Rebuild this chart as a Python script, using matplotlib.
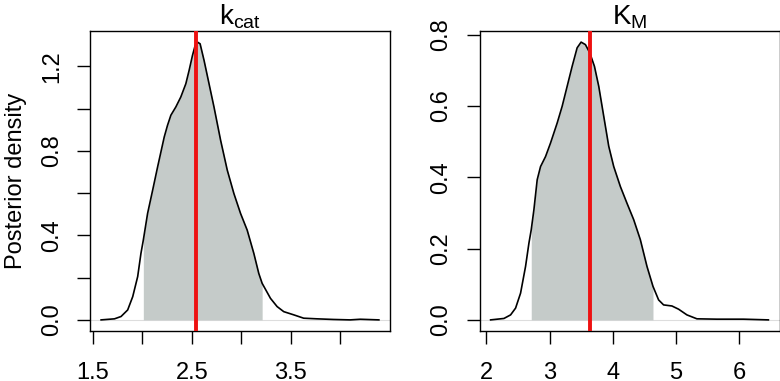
import numpy as np
import matplotlib as mpl
mpl.use('Agg')
import matplotlib.pyplot as plt

plt.rcParams['font.family'] = ['Liberation Sans', 'DejaVu Sans']
plt.rcParams['mathtext.fontset'] = 'custom'
plt.rcParams['mathtext.rm'] = 'Liberation Sans'
plt.rcParams['mathtext.it'] = 'Liberation Sans'

# posterior density of kcat
kcat_x = [1.585, 1.72, 1.786, 1.853, 1.904, 1.954, 1.987, 2.011, 2.054, 2.105,
          2.155, 2.222, 2.255, 2.289, 2.339, 2.389, 2.44, 2.473, 2.507, 2.534,
          2.557, 2.584, 2.624, 2.674, 2.724, 2.791, 2.858, 2.925, 2.992, 3.059,
          3.126, 3.176, 3.21, 3.294, 3.361, 3.428, 3.528, 3.629, 3.763, 3.93,
          4.098, 4.2, 4.388]
kcat_y = [0.0, 0.005, 0.016, 0.047, 0.11, 0.205, 0.315, 0.378, 0.504, 0.614,
          0.724, 0.866, 0.921, 0.969, 1.008, 1.055, 1.118, 1.181, 1.252, 1.299,
          1.315, 1.307, 1.228, 1.118, 1.008, 0.85, 0.709, 0.598, 0.504, 0.425,
          0.315, 0.22, 0.173, 0.102, 0.063, 0.039, 0.024, 0.008, 0.005, 0.002,
          0.0, 0.003, 0.0]
kcat_ci = [2.011, 3.21]
kcat_true = 2.54

# posterior density of KM
km_x = [2.068, 2.279, 2.384, 2.463, 2.542, 2.621, 2.674, 2.711, 2.753, 2.805,
        2.858, 2.937, 3.016, 3.121, 3.2, 3.279, 3.358, 3.437, 3.5, 3.568,
        3.637, 3.711, 3.779, 3.858, 3.937, 4.016, 4.121, 4.226, 4.332, 4.437,
        4.542, 4.637, 4.726, 4.805, 4.937, 5.042, 5.174, 5.332, 5.647, 6.068,
        6.463]
km_y = [0.0, 0.004, 0.014, 0.033, 0.075, 0.15, 0.215, 0.253, 0.309, 0.393,
        0.43, 0.458, 0.496, 0.552, 0.599, 0.655, 0.711, 0.763, 0.779, 0.772,
        0.749, 0.711, 0.655, 0.571, 0.487, 0.43, 0.374, 0.327, 0.281, 0.225,
        0.15, 0.094, 0.056, 0.042, 0.039, 0.03, 0.014, 0.003, 0.002, 0.002,
        0.0]
km_ci = [2.711, 4.637]
km_true = 3.637

kcat_xticks = [1.5, 2.0, 2.5, 3.0, 3.5, 4.0]
kcat_xlabels = ['1.5', '', '2.5', '', '3.5', '']
kcat_yticks = [0.0, 0.2, 0.4, 0.6, 0.8, 1.0, 1.2]
kcat_ylabels = ['0.0', '', '0.4', '', '0.8', '', '1.2']
km_xticks = [2, 3, 4, 5, 6]
km_xlabels = ['2', '3', '4', '5', '6']
km_yticks = [0.0, 0.2, 0.4, 0.6, 0.8]
km_ylabels = ['0.0', '0.2', '0.4', '0.6', '0.8']

fig = plt.figure(figsize=(7.8, 3.81), dpi=100)
ax1 = fig.add_axes([90 / 780, 50 / 381, 300 / 780, 300 / 381])
ax2 = fig.add_axes([479.5 / 780, 50 / 381, 300 / 780, 300 / 381])


def panel(ax, xs, ys, ci, true, title, xt, xl, yt, yl):
    xs = np.array(xs)
    ys = np.array(ys)
    inside = (xs >= ci[0]) & (xs <= ci[1])
    ax.axhline(0, color='#dddddd', lw=0.8, zorder=1)
    ax.fill_between(xs, 0, ys, where=inside, color='#c5cbc9', lw=0, zorder=2)
    ax.plot(xs, ys, color='black', lw=1.2, zorder=3)
    ax.axvline(true, color='#ee1111', lw=2.8, zorder=4)
    span = xs.max() - xs.min()
    ax.set_xlim(xs.min() - 0.04 * span, xs.max() + 0.04 * span)
    ax.set_ylim(-0.04 * ys.max(), ys.max() * 1.04)
    ax.set_xticks(xt)
    ax.set_xticklabels(xl)
    ax.set_yticks(yt)
    ax.set_yticklabels(yl, rotation=90, va='center')
    ax.tick_params(direction='out', length=9.5, width=1.0, labelsize=17)
    ax.tick_params(axis='x', pad=13)
    ax.tick_params(axis='y', pad=10)
    for s in ax.spines.values():
        s.set_linewidth(1.0)
    ax.set_title(title, fontsize=20, pad=3)


panel(ax1, kcat_x, kcat_y, kcat_ci, kcat_true, r'$\mathregular{k_{cat}}$',
      kcat_xticks, kcat_xlabels, kcat_yticks, kcat_ylabels)
panel(ax2, km_x, km_y, km_ci, km_true, r'$\mathregular{K_{M}}$',
      km_xticks, km_xlabels, km_yticks, km_ylabels)
ax1.set_ylabel('Posterior density', fontsize=17, labelpad=10)

fig.savefig('out.png', dpi=100)
